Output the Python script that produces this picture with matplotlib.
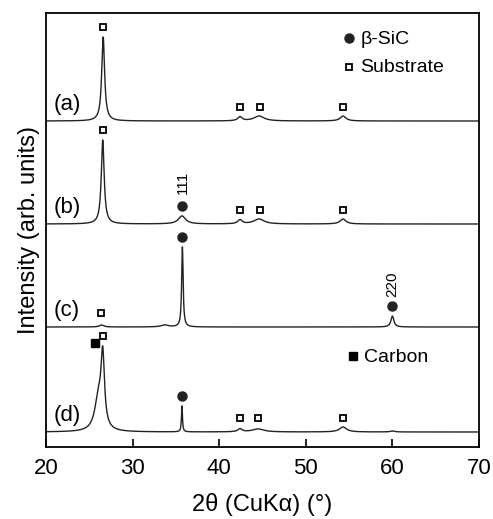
import numpy as np
import matplotlib
matplotlib.use("Agg")
from matplotlib import pyplot as plt

plt.rcParams["font.family"] = ["Liberation Sans", "DejaVu Sans"]

# peaks: (2theta, height, half width)
peaks_a = [(26.6, 84, 0.2), (42.4, 4, 0.3), (44.6, 5, 0.7), (54.3, 5, 0.4)]
peaks_b = [(26.55, 84, 0.2), (35.7, 8, 0.5), (42.4, 4, 0.3), (44.6, 5, 0.7), (54.3, 5, 0.4)]
peaks_c = [(26.4, 2, 0.3), (33.7, 2, 0.5), (35.75, 80, 0.1), (60.0, 11, 0.2)]
peaks_d = [(26.05, 32, 0.5), (26.55, 70, 0.24), (35.7, 26, 0.07), (42.4, 3, 0.3),
           (44.5, 3, 0.8), (54.3, 5, 0.5), (60.0, 1, 0.3)]
offsets = [326, 223, 120, 15]
labels = ["(a)", "(b)", "(c)", "(d)"]

# phase markers: (2theta, kind)  o = beta-SiC, s = substrate, c = carbon
marks_a = [(26.6, "s"), (42.4, "s"), (44.7, "s"), (54.3, "s")]
marks_b = [(26.6, "s"), (35.7, "o"), (42.4, "s"), (44.7, "s"), (54.3, "s")]
marks_c = [(26.4, "s"), (35.75, "o"), (60.0, "o")]
marks_d = [(25.65, "c"), (26.6, "s"), (35.7, "o"), (42.4, "s"), (44.5, "s"), (54.3, "s")]


def pattern(x, peaks):
    y = np.zeros_like(x)
    for c, h, w in peaks:
        y += h / (1 + ((x - c) / w) ** 2)
    return y


x = np.linspace(20, 70, 5001)
fig = plt.figure(figsize=(4.93, 5.19), dpi=100)
ax = fig.add_axes([46 / 493, 72 / 519, 433 / 493, 434 / 519])

style = {"s": dict(marker="s", mfc="white", mec="black", ms=5, mew=1.3),
         "o": dict(marker="o", mfc="#222222", mec="#222222", ms=6.5),
         "c": dict(marker="s", mfc="black", mec="black", ms=6)}

allpeaks = [peaks_a, peaks_b, peaks_c, peaks_d]
allmarks = [marks_a, marks_b, marks_c, marks_d]
for peaks, marks, off, lab in zip(allpeaks, allmarks, offsets, labels):
    y = pattern(x, peaks) + off
    ax.plot(x, y, color="#222222", lw=1.0)
    for px, kind in marks:
        near = y[(x > px - 0.5) & (x < px + 0.5)].max()
        yy = near + 10
        if kind == "c":
            yy = y[(x > px - 1.2) & (x < px + 1.2)].max() + 3
        if kind == "s" and near - off < 15:
            yy = off + 14
        ax.plot([px], [yy], ls="none", **style[kind])
    ax.text(20.9, off + 6, lab, fontsize=16, ha="left", va="bottom")

ax.text(35.8, 265, "111", rotation=90, fontsize=11, ha="center", va="center")
ax.text(60.0, 163, "220", rotation=90, fontsize=11, ha="center", va="center")

ax.plot([55.0], [409], ls="none", **style["o"])
ax.text(56.3, 408, "β-SiC", fontsize=14, va="center")
ax.plot([55.0], [380], ls="none", **style["s"])
ax.text(56.3, 379, "Substrate", fontsize=14, va="center")
ax.plot([55.5], [91], ls="none", **style["c"])
ax.text(56.7, 90, "Carbon", fontsize=14, va="center")

ax.set_xlim(20, 70)
ax.set_ylim(0, 434)
ax.set_yticks([])
ax.set_xticks([20, 30, 40, 50, 60, 70])
ax.tick_params(axis="x", direction="in", length=6, width=1.2, labelsize=16, pad=8)
for s in ax.spines.values():
    s.set_linewidth(1.3)
ax.set_xlabel("2θ (CuKα) (°)", fontsize=17, labelpad=10)
ax.set_ylabel("Intensity (arb. units)", fontsize=17, labelpad=4)

fig.savefig("out.png", dpi=100)
